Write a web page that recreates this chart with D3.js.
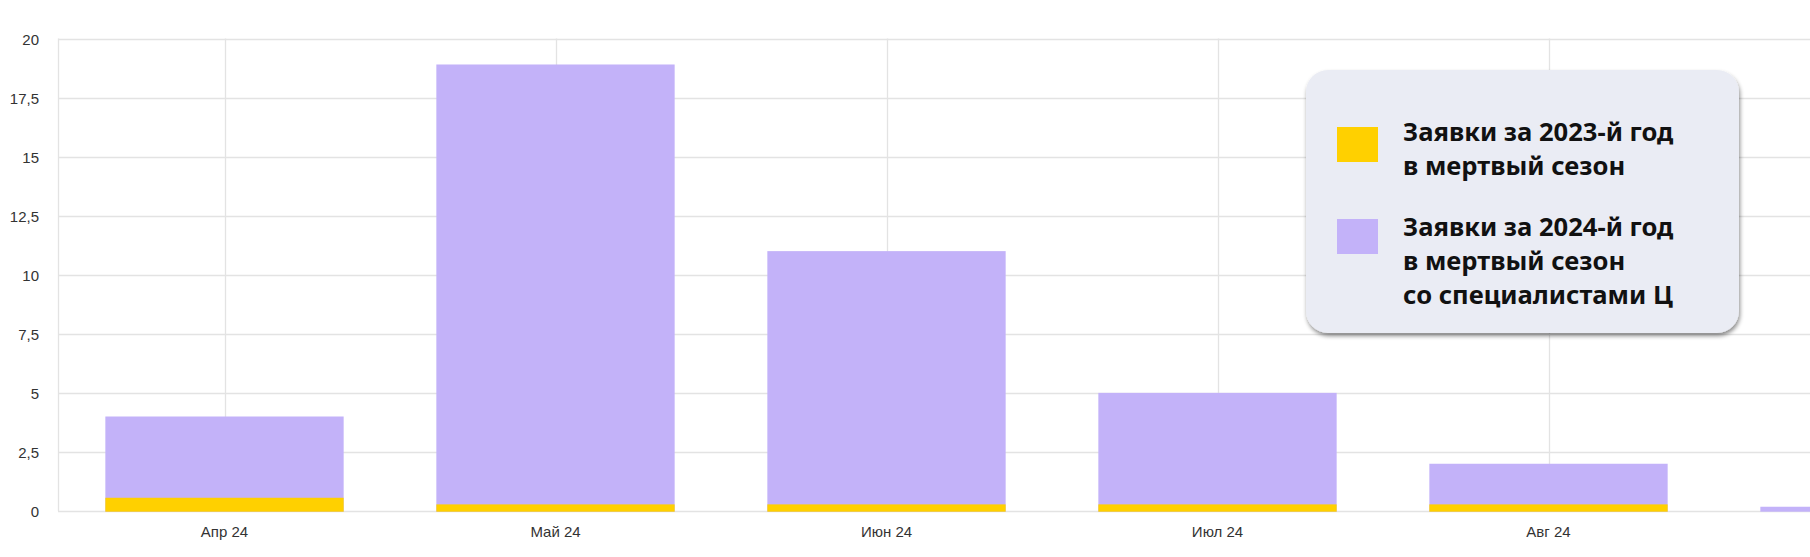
<!DOCTYPE html>
<html><head><meta charset="utf-8">
<script src="https://cdn.jsdelivr.net/npm/d3@7"></script>
<style>
html,body{margin:0;padding:0;background:#fff;}
svg{display:block;}
</style></head>
<body>
<svg id="chart" width="1810" height="557"></svg>
<script>
const categories = ["Апр 24", "Май 24", "Июн 24", "Июл 24", "Авг 24", "Сен 24"];
const values2024 = [4, 18.9, 11, 5, 2, 0.18];
const values2023 = [0.56, 0.28, 0.28, 0.28, 0.28, 0];
const yTicks = [0, 2.5, 5, 7.5, 10, 12.5, 15, 17.5, 20];
const legendItems = [
  {label: ["Заявки за 2023-й год", "в мертвый сезон"], color: "#FFD000"},
  {label: ["Заявки за 2024-й год", "в мертвый сезон", "со специалистами Ц"], color: "#C3B2F9"}
];

const W = 1810, H = 557;
const svg = d3.select("#chart");
const left = 59, step = 331;
const x = d3.scaleBand().domain(categories).range([left, left + step * categories.length])
  .paddingInner(0.28).paddingOuter(0.14);
const y = d3.scaleLinear().domain([0, 20]).range([511, 38.5]);

// grid
const grid = svg.append("g");
grid.selectAll("line.h").data(yTicks).join("line")
  .attr("x1", 58).attr("x2", W)
  .attr("y1", d => Math.round(y(d)) + 0.5).attr("y2", d => Math.round(y(d)) + 0.5)
  .attr("stroke", "#e3e3e3").attr("stroke-width", 1.3);
const vLines = [58].concat(categories.map(c => x(c) + x.bandwidth() / 2));
grid.selectAll("line.v").data(vLines).join("line")
  .attr("x1", d => Math.round(d) + 0.5).attr("x2", d => Math.round(d) + 0.5)
  .attr("y1", y(20)).attr("y2", y(0))
  .attr("stroke", "#e3e3e3").attr("stroke-width", 1.3);

// bars
svg.append("g").selectAll("rect").data(categories).join("rect")
  .attr("x", d => x(d)).attr("width", x.bandwidth())
  .attr("y", (d, i) => y(values2024[i])).attr("height", (d, i) => y(0) - y(values2024[i]) + 0.7)
  .attr("fill", "#C3B2F9");
svg.append("g").selectAll("rect").data(categories).join("rect")
  .attr("x", d => x(d)).attr("width", x.bandwidth())
  .attr("y", (d, i) => y(values2023[i])).attr("height", (d, i) => values2023[i] ? y(0) - y(values2023[i]) + 0.7 : 0)
  .attr("fill", "#FFD000");

// y axis labels
const yAxis = d3.axisLeft(y).tickValues(yTicks).tickSize(0).tickPadding(0)
  .tickFormat(d => String(d).replace(".", ","));
const gy = svg.append("g").attr("transform", "translate(39,1)").call(yAxis);
gy.select(".domain").remove();
gy.selectAll("text").attr("font-family", "'Liberation Sans', Arial, sans-serif")
  .attr("font-size", 15).attr("fill", "#333");

// x axis labels
const xAxis = d3.axisBottom(x).tickValues(categories.filter(c => x(c) + x.bandwidth() / 2 < W)).tickSize(0).tickPadding(0);
const gx = svg.append("g").attr("transform", "translate(0,526)").call(xAxis);
gx.select(".domain").remove();
gx.selectAll("text").attr("font-family", "'Liberation Sans', Arial, sans-serif")
  .attr("font-size", 15).attr("fill", "#333");

// legend
const defs = svg.append("defs");
const f = defs.append("filter").attr("id", "sh").attr("x", "-10%").attr("y", "-10%").attr("width", "120%").attr("height", "130%");
f.append("feDropShadow").attr("dx", 1).attr("dy", 3).attr("stdDeviation", 2)
  .attr("flood-color", "#000").attr("flood-opacity", 0.45);
const lg = svg.append("g");
lg.append("rect").attr("x", 1306).attr("y", 70).attr("width", 433).attr("height", 263)
  .attr("rx", 22).attr("fill", "#EAECF4").attr("filter", "url(#sh)");
const sqY = [127, 219];
const lineY = [[141, 174.5], [236, 270, 304]];
legendItems.forEach((it, i) => {
  lg.append("rect").attr("x", 1337).attr("y", sqY[i]).attr("width", 41).attr("height", 35).attr("fill", it.color);
  it.label.forEach((t, j) => {
    lg.append("text").attr("x", 1403).attr("y", lineY[i][j]).text(t)
      .attr("font-family", "'Noto Sans', 'Open Sans', sans-serif").attr("font-weight", 700)
      .attr("font-size", 25.6).attr("fill", "#111");
  });
});
</script>
</body></html>
